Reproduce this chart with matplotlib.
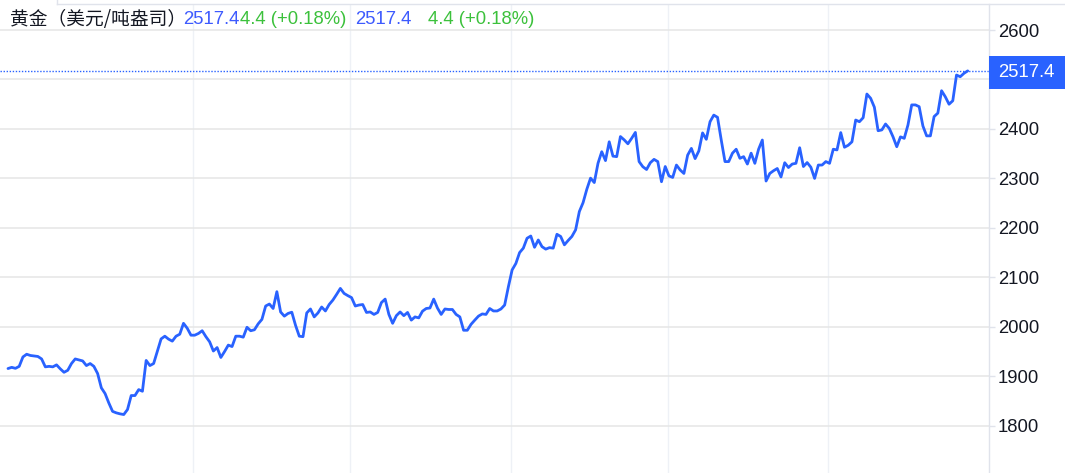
import matplotlib
matplotlib.use("Agg")
import matplotlib.pyplot as plt
from matplotlib.patches import Rectangle
from matplotlib.lines import Line2D
from matplotlib.transforms import blended_transform_factory

plt.rcParams['font.family'] = ['Liberation Sans', 'Noto Sans CJK SC', 'DejaVu Sans']

# ---- data ----
title = "黄金（美元/吨盎司）"
last_price = 2517.4
change_text = "4.4 (+0.18%)"

seg1 = [1915.6, 1918, 1916, 1920, 1939, 1944.5, 1942, 1941, 1940, 1935, 1919, 1920, 1919, 1923,
        1915, 1908, 1912, 1925.7, 1935, 1933, 1931, 1921.6, 1925.7, 1920, 1905.5, 1876.5, 1865,
        1846, 1829, 1826, 1824, 1822.6, 1832.7, 1861, 1861, 1873, 1869.7, 1932, 1921.6, 1925.7,
        1950.5, 1975.5]
seg2 = [1981, 1975, 1971, 1981, 1985, 2007, 1997, 1983, 1983, 1986.5, 1992, 1980, 1969.6, 1951,
        1958, 1938, 1950, 1963, 1960, 1981, 1981, 1979, 1999, 1992, 1994, 2006, 2015, 2042, 2046,
        2037, 2071, 2030, 2021.5, 2027, 2029.5, 2003, 1981, 1980, 2028, 2036, 2020, 2028, 2040,
        2032]
seg3 = [2045, 2054, 2065.5, 2077.6, 2067.5, 2063, 2059, 2042, 2044, 2045, 2029, 2030, 2025, 2029,
        2049, 2056, 2025, 2007, 2022.5, 2030, 2022.5, 2029, 2013.5, 2020, 2018, 2031.6, 2037,
        2038, 2056, 2038, 2025, 2036, 2035, 2035, 2025, 2020, 1993, 1993, 2005, 2013.5, 2021.6,
        2026, 2025]
seg4 = [2037, 2032, 2032, 2036, 2044, 2081, 2115, 2128, 2150, 2159, 2179, 2183.5, 2160.7, 2175.5,
        2162, 2157, 2160, 2159, 2187, 2182.6, 2165.7, 2174.5, 2182.6, 2196, 2233, 2251, 2278,
        2300.5, 2291.6, 2330.7, 2354, 2336, 2374, 2345, 2344, 2384.6, 2378, 2370, 2381, 2393,
        2334, 2323.6, 2318, 2331.7, 2338.5]
seg5 = [2334, 2293.3, 2324, 2305, 2302, 2327, 2317, 2310, 2347, 2360.7, 2340, 2355.6, 2392, 2379,
        2414.6, 2428, 2423.5, 2377.6, 2334, 2334, 2351, 2359, 2340.6, 2344, 2329, 2351, 2330.5,
        2359, 2377.6, 2294.7, 2310, 2315.5, 2320, 2303, 2331.7, 2322, 2329, 2330.5, 2362, 2324,
        2332, 2322.6, 2300, 2327]
seg6 = [2327, 2334, 2330.5, 2359, 2357.6, 2392.6, 2363, 2367, 2374, 2418, 2414.6, 2422.7, 2470.6,
        2462, 2444, 2396.4, 2398, 2410, 2401, 2384, 2364, 2384, 2381, 2408, 2448.6, 2448.6, 2445,
        2406, 2386, 2386, 2425, 2432, 2477.3, 2465, 2450, 2457, 2509, 2505.6, 2512.5, 2517.4]

prices = seg1 + seg2 + seg3 + seg4 + seg5 + seg6
y_ticks = [1800, 1900, 2000, 2100, 2200, 2300, 2400, 2500, 2600]
y_tick_labels = ["1800", "1900", "2000", "2100", "2200", "2300", "2400", "", "2600"]
month_grid_idx = [49.6, 91.6, 134.7, 176.8, 219.7]

# ---- figure ----
W, H = 1065, 473
fig = plt.figure(figsize=(W / 100, H / 100), dpi=100)
ax_right_px = 989
ax_top_px = 4
ax = fig.add_axes([0, 0, ax_right_px / W, (H - ax_top_px) / H])

BLUE = '#2962FF'
x = list(range(len(prices)))
ax.plot(x, prices, color=BLUE, lw=2.0, solid_joinstyle='round', solid_capstyle='round', zorder=3)
ax.axhline(last_price, color=BLUE, lw=1.0, linestyle=(0, (1, 1.2)), zorder=2)

ylo, yhi = 1704.4, 2652.6
ax.set_ylim(ylo, yhi)
ax.set_xlim(-2.14, 262.7)

for s in ['left', 'top', 'bottom']:
    ax.spines[s].set_visible(False)
ax.spines['right'].set_color('#e0e3eb')
ax.spines['right'].set_linewidth(1.0)

ax.yaxis.tick_right()
ax.set_yticks(y_ticks)
ax.set_yticklabels(y_tick_labels)
ax.tick_params(axis='y', length=4, width=1, color='#e0e3eb', labelsize=13.3, pad=2.5,
               labelcolor='#131722')
ax.set_xticks(month_grid_idx)
ax.tick_params(axis='x', length=0, labelbottom=False)
ax.yaxis.grid(True, color='#e6e6e6', lw=1.1)
ax.xaxis.grid(True, color='#eef1f6', lw=1.0)
ax.set_axisbelow(True)

# price label box on the axis
px_per_unit = (H - ax_top_px) / (yhi - ylo)
half_h = 16.5 / px_per_unit
trans = blended_transform_factory(fig.transFigure, ax.transData)
rect = Rectangle((ax_right_px / W, last_price - half_h - 2 / px_per_unit), 1 - ax_right_px / W,
                 2 * half_h, transform=trans, facecolor=BLUE, edgecolor='none', clip_on=False,
                 zorder=5)
fig.add_artist(rect)
fig.text(1026.5 / W, last_price - 1.5 / px_per_unit, f"{last_price:.1f}", transform=trans,
         color='white', fontsize=13.3, ha='center', va='center', zorder=6)

# top border
fig.add_artist(Line2D([57 / W, 1], [1 - 4 / H, 1 - 4 / H], color='#e0e3eb', lw=1.0))
fig.add_artist(Line2D([57 / W, 57 / W], [1 - 4 / H, 1], color='#e0e3eb', lw=1.0))

# header
ty = 1 - 19 / H
fig.text(10 / W, ty, title, fontsize=13.5, color='#131722', va='center', ha='left',
         family=['Noto Sans CJK SC', 'DejaVu Sans'])
GREEN = '#3cc13c'
HBLUE = '#3d5afe'
fig.text(183 / W, ty, f"{last_price:.1f}", fontsize=13.3, color=HBLUE, va='center', ha='left')
fig.text(240 / W, ty, change_text, fontsize=13.3, color=GREEN, va='center', ha='left')
fig.text(355 / W, ty, f"{last_price:.1f}", fontsize=13.3, color=HBLUE, va='center', ha='left')
fig.text(428 / W, ty, change_text, fontsize=13.3, color=GREEN, va='center', ha='left')

fig.savefig("out.png", dpi=100)
